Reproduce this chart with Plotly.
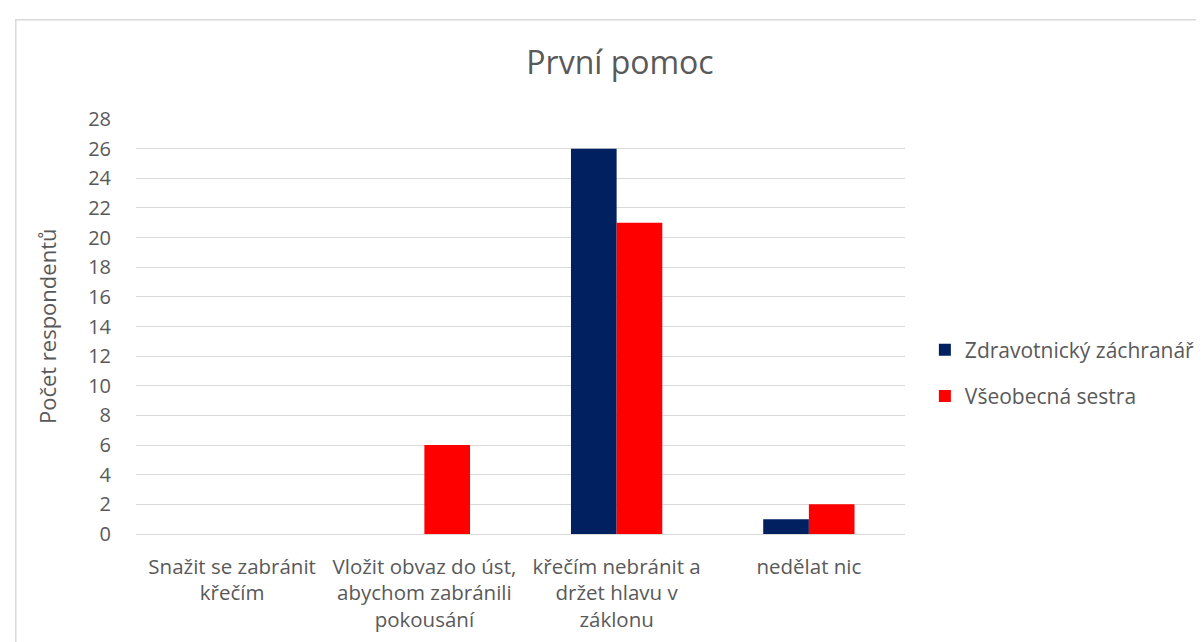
import plotly.graph_objects as go

categories = [
    "Snažit se zabránit<br>křečím",
    "Vložit obvaz do úst,<br>abychom zabránili<br>pokousání",
    "křečím nebránit a<br>držet hlavu v<br>záklonu",
    "nedělat nic",
]
series_names = ["Zdravotnický záchranář", "Všeobecná sestra"]
zachranar = [0, 0, 26, 1]
sestra = [0, 6, 21, 2]
colors = ["#002060", "#FF0000"]
y_ticks = list(range(0, 29, 2))

FONT = "Open Sans"
GRAY = "#595959"

fig = go.Figure()
for name, vals, col in zip(series_names, [zachranar, sestra], colors):
    fig.add_trace(go.Bar(
        x=categories, y=vals, name=name, marker_color=col,
        marker_line_width=0, legendgroup=name,
    ))

W, H = 1204, 642
L, R, T, B = 128, 302, 110.7, 116
pw = W - L - R
ph = H - T - B

def px_x(x):
    return (x - L) / pw

def px_y(y):
    return (H - B - y) / ph

fig.update_layout(
    width=W, height=H,
    margin=dict(l=L, r=R, t=T, b=B),
    paper_bgcolor="white", plot_bgcolor="white",
    barmode="group", bargap=0.525, bargroupgap=0,
    font=dict(family=FONT, size=20, color=GRAY),
    title=dict(text="První pomoc", x=612 / W, xref="container", xanchor="center",
               y=1 - 55 / H, yref="container", yanchor="middle",
               font=dict(family=FONT, size=32, color=GRAY)),
    xaxis=dict(showgrid=False, showline=False, ticks="",
               tickfont=dict(family=FONT, size=20.5, color=GRAY),
               ticklabelstandoff=18),
    yaxis=dict(range=[0, 28], tickvals=y_ticks, showgrid=True, gridcolor="#d9d9d9",
               gridwidth=1.3, zeroline=True, zerolinecolor="#d9d9d9", zerolinewidth=1.3,
               showline=False, ticks="", tickfont=dict(family=FONT, size=20, color=GRAY),
               ticklabelstandoff=24),
    legend=dict(x=px_x(922), xanchor="left", y=px_y(365), yanchor="middle",
                font=dict(family=FONT, size=21, color=GRAY), tracegroupgap=16,
                bgcolor="rgba(0,0,0,0)"),
    annotations=[dict(text="Počet respondentů", textangle=-90, x=px_x(38), y=0.5,
                      xref="paper", yref="paper", xanchor="center", yanchor="middle",
                      showarrow=False,
                      font=dict(family=FONT, size=22, color=GRAY))],
    shapes=[dict(type="rect", xref="paper", yref="paper",
                 x0=px_x(7), x1=px_x(1215), y0=px_y(660), y1=px_y(11.5),
                 line=dict(color="#d9d9d9", width=1.5), layer="below")],
)

fig.write_html("out.html")
